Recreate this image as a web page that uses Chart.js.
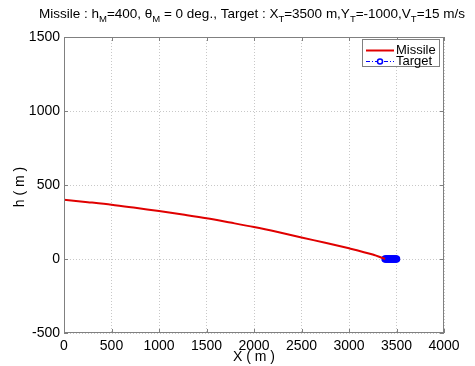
<!DOCTYPE html>
<html>
<head>
<meta charset="utf-8">
<script src="https://cdn.jsdelivr.net/npm/chart.js@4.4.0/dist/chart.umd.min.js"></script>
<style>
	html, body { margin: 0; padding: 0; background: #fff; }
	#wrap { width: 475px; height: 366px; position: relative; }
</style>
</head>
<body>
<div id="wrap"><canvas id="traj"></canvas></div>
<script>
// missile trajectory
var missileX = [0, 250, 500, 750, 1000, 1250, 1500, 1750, 2000, 2250, 2500, 2750, 3000, 3250, 3380];
var missileH = [400, 384, 367, 346, 324, 300, 275, 246, 216, 182, 145, 110, 72, 30, 0];

// target track
var targetX = [3500, 3490, 3480, 3470, 3460, 3450, 3440, 3430, 3420, 3410, 3400, 3390, 3380];
var targetH = [0, 0, 0, 0, 0, 0, 0, 0, 0, 0, 0, 0, 0];

var xTicks = [0, 500, 1000, 1500, 2000, 2500, 3000, 3500, 4000];
var yTicks = [-500, 0, 500, 1000, 1500];

var seriesLabels = ['Missile', 'Target'];
var titleParts = [
	['Missile : h', 0], ['M', 1], ['=400, ', 0], ['\u03b8', 0], ['M', 1],
	[' = 0 deg., Target : X', 0], ['T', 1], ['=3500 m,Y', 0], ['T', 1],
	['=-1000,V', 0], ['T', 1], ['=15 m/s', 0]
];
var xTitle = 'X ( m )';
var yTitle = 'h ( m )';

var FONT = "'Liberation Sans', Arial, sans-serif";

function toPoints(xs, ys) {
	var pts = [];
	for (var i = 0; i < xs.length; i++) {
		pts.push({ x: xs[i], y: ys[i] });
	}
	return pts;
}

var matlabDecor = {
	id: 'matlabDecor',
	afterDraw: function (chart) {
		var ctx = chart.ctx;
		var a = chart.chartArea;
		var xs = chart.scales.x;
		var ys = chart.scales.y;
		ctx.save();

		// box + inward ticks
		ctx.strokeStyle = '#808080';
		ctx.lineWidth = 1;
		ctx.strokeRect(a.left + 0.5, a.top + 0.5, a.right - a.left - 1, a.bottom - a.top - 1);
		ctx.beginPath();
		xTicks.forEach(function (v) {
			var px = Math.round(xs.getPixelForValue(v)) + 0.5;
			ctx.moveTo(px, a.bottom); ctx.lineTo(px, a.bottom - 4);
			ctx.moveTo(px, a.top); ctx.lineTo(px, a.top + 4);
		});
		yTicks.forEach(function (v) {
			var py = Math.round(ys.getPixelForValue(v)) + 0.5;
			ctx.moveTo(a.left, py); ctx.lineTo(a.left + 4, py);
			ctx.moveTo(a.right, py); ctx.lineTo(a.right - 4, py);
		});
		ctx.stroke();

		// title with subscripts
		ctx.fillStyle = '#000';
		ctx.textBaseline = 'alphabetic';
		ctx.textAlign = 'left';
		var big = '13.5px ' + FONT, small = '9.5px ' + FONT;
		var total = 0;
		titleParts.forEach(function (p) {
			ctx.font = p[1] ? small : big;
			total += ctx.measureText(p[0]).width;
		});
		var tx = (a.left + a.right) / 2 - total / 2 - 2;
		titleParts.forEach(function (p) {
			ctx.font = p[1] ? small : big;
			ctx.fillText(p[0], tx, p[1] ? 22 : 18);
			tx += ctx.measureText(p[0]).width;
		});

		// axis titles
		ctx.font = '14px ' + FONT;
		ctx.textAlign = 'center';
		ctx.textBaseline = 'middle';
		ctx.fillText(xTitle, (a.left + a.right) / 2, 357);
		ctx.save();
		ctx.translate(20, (a.top + a.bottom) / 2 + 2);
		ctx.rotate(-Math.PI / 2);
		ctx.fillText(yTitle, 0, 0);
		ctx.restore();

		// legend
		var lx = 362, ly = 39, lw = 77, lh = 27;
		ctx.fillStyle = '#fff';
		ctx.fillRect(lx, ly, lw, lh);
		ctx.lineWidth = 1;
		ctx.strokeStyle = '#808080';
		ctx.strokeRect(lx + 0.5, ly + 0.5, lw, lh);
		ctx.lineWidth = 2;
		ctx.strokeStyle = '#e00000';
		ctx.beginPath(); ctx.moveTo(366, 50.5); ctx.lineTo(394, 50.5); ctx.stroke();
		ctx.strokeStyle = '#0000ff';
		ctx.setLineDash([4, 2, 1, 2]);
		ctx.lineWidth = 1.2;
		ctx.beginPath(); ctx.moveTo(366, 61.5); ctx.lineTo(394, 61.5); ctx.stroke();
		ctx.setLineDash([]);
		ctx.lineWidth = 1.5;
		ctx.fillStyle = '#fff';
		ctx.beginPath(); ctx.arc(380, 61.5, 2.5, 0, Math.PI * 2); ctx.fill(); ctx.stroke();
		ctx.fillStyle = '#000';
		ctx.font = '13px ' + FONT;
		ctx.textAlign = 'left';
		ctx.fillText(seriesLabels[0], 396, 50.5);
		ctx.fillText(seriesLabels[1], 396, 61.5);
		ctx.restore();
	}
};

function plainTick(value) {
	return String(value);
}

var trajChart = new Chart(document.getElementById('traj').getContext('2d'), {
	type: 'scatter',
	data: {
		datasets: [{
			label: seriesLabels[0],
			data: toPoints(missileX, missileH),
			showLine: true,
			borderColor: '#e00000',
			backgroundColor: '#e00000',
			borderWidth: 2,
			pointRadius: 0,
			tension: 0.3
		}, {
			label: seriesLabels[1],
			data: toPoints(targetX, targetH),
			showLine: true,
			borderColor: '#0000ff',
			backgroundColor: '#0000ff',
			borderWidth: 1.5,
			borderDash: [4, 2, 1, 2],
			pointRadius: 3,
			pointBorderWidth: 1.5
		}]
	},
	options: {
		responsive: true,
		maintainAspectRatio: false,
		animation: false,
		layout: { padding: { left: 0, right: 31, top: 37, bottom: 0 } },
		scales: {
			x: {
				type: 'linear',
				min: 0, max: 4000,
				afterBuildTicks: function (scale) {
					scale.ticks = xTicks.map(function (v) { return { value: v }; });
				},
				afterFit: function (scale) { scale.height = 33; },
				grid: { color: '#c8c8c8', drawTicks: false, lineWidth: 1 },
				border: { display: false, dash: [1, 2] },
				ticks: { color: '#000', padding: 5, maxRotation: 0, autoSkip: false, callback: plainTick, font: { size: 14, family: FONT } }
			},
			y: {
				type: 'linear',
				min: -500, max: 1500,
				afterBuildTicks: function (scale) {
					scale.ticks = yTicks.map(function (v) { return { value: v }; });
				},
				afterFit: function (scale) { scale.width = 64; },
				grid: { color: '#c8c8c8', drawTicks: false, lineWidth: 1 },
				border: { display: false, dash: [1, 2] },
				ticks: { color: '#000', padding: 4, autoSkip: false, callback: plainTick, font: { size: 14, family: FONT } }
			}
		},
		plugins: {
			legend: { display: false },
			title: { display: false },
			tooltip: { enabled: false }
		}
	},
	plugins: [matlabDecor]
});
</script>
</body>
</html>
